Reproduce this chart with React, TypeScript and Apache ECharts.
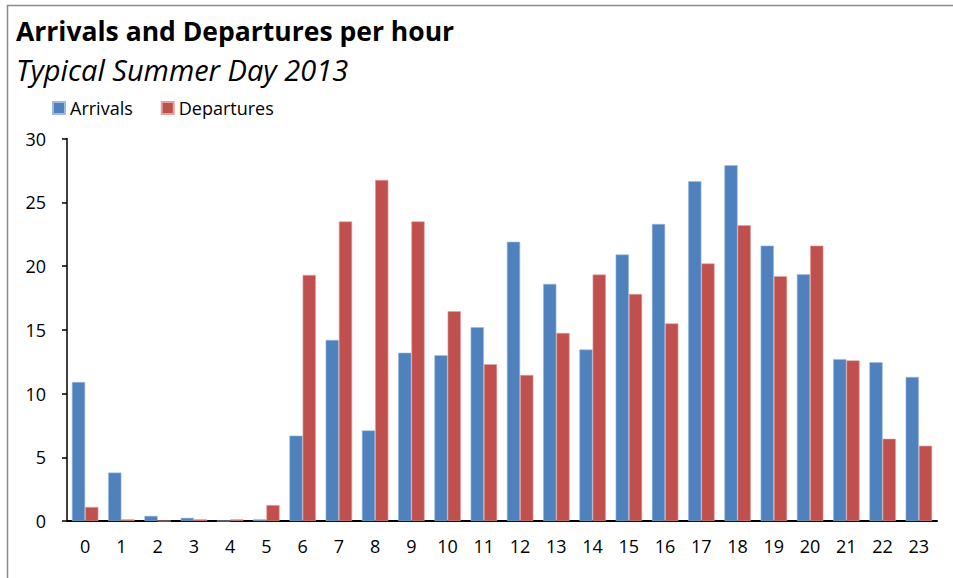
import React, { useEffect, useRef } from "react";
import * as echarts from "echarts";

const hours = ["0","1","2","3","4","5","6","7","8","9","10","11","12","13","14","15","16","17","18","19","20","21","22","23"];
const arrivals = [10.9, 3.8, 0.4, 0.25, 0, 0.13, 6.7, 14.2, 7.1, 13.2, 13.0, 15.2, 21.9, 18.6, 13.45, 20.9, 23.3, 26.65, 27.9, 21.6, 19.35, 12.7, 12.45, 11.3];
const departures = [1.1, 0.13, 0, 0.13, 0.13, 1.25, 19.3, 23.5, 26.75, 23.5, 16.45, 12.3, 11.45, 14.75, 19.33, 17.8, 15.5, 20.2, 23.2, 19.2, 21.6, 12.6, 6.45, 5.9];
const yTicks = { min: 0, max: 30, interval: 5 };

const FONT = "'Open Sans', sans-serif";

export default function App() {
  const ref = useRef<HTMLDivElement>(null);
  useEffect(() => {
    if (!ref.current) return;
    const chart = echarts.init(ref.current, undefined, { renderer: "svg" });
    chart.setOption({
      animation: false,
      backgroundColor: "#ffffff",
      textStyle: { fontFamily: FONT },
      graphic: [
        {
          type: "rect",
          shape: { x: 7.5, y: 5.5, width: 1000, height: 700 },
          style: { fill: "none", stroke: "#8c8c8c", lineWidth: 1.5 },
          silent: true,
          z: -10,
        },
      ],
      title: [
        {
          text: "Arrivals and Departures per hour",
          left: 11,
          top: 12,
          textStyle: { fontFamily: FONT, fontSize: 26.5, fontWeight: "bold", color: "#000" },
        },
        {
          text: "Typical Summer Day 2013",
          left: 11,
          top: 50,
          textStyle: { fontFamily: FONT, fontSize: 29, fontStyle: "italic", fontWeight: "normal", color: "#000" },
        },
      ],
      legend: {
        left: 47,
        top: 94,
        itemWidth: 12,
        itemHeight: 12,
        itemGap: 28,
        icon: "rect",
        textStyle: { fontFamily: FONT, fontSize: 18, color: "#000" },
        data: ["Arrivals", "Departures"],
      },
      grid: { left: 67, right: 16, top: 138.5, bottom: 57, containLabel: false },
      xAxis: {
        type: "category",
        data: hours,
        axisLine: { show: true, lineStyle: { color: "#000", width: 2 } },
        axisTick: { show: false },
        axisLabel: { color: "#000", fontSize: 18, margin: 16, fontFamily: FONT },
      },
      yAxis: {
        type: "value",
        min: yTicks.min,
        max: yTicks.max,
        interval: yTicks.interval,
        axisLine: { show: true, lineStyle: { color: "#000", width: 1.5 } },
        axisTick: { show: true, length: 5, lineStyle: { color: "#000", width: 1.5 } },
        splitLine: { show: false },
        axisLabel: { color: "#000", fontSize: 18, margin: 21, fontFamily: FONT },
      },
      series: [
        {
          name: "Arrivals",
          type: "bar",
          data: arrivals,
          barGap: "0%",
          barCategoryGap: "27%",
          itemStyle: { color: "#4F81BD", borderColor: "#9dbbe0", borderWidth: 0.6 },
        },
        {
          name: "Departures",
          type: "bar",
          data: departures,
          barGap: "0%",
          barCategoryGap: "27%",
          itemStyle: { color: "#C0504D", borderColor: "#e0a3a1", borderWidth: 0.6 },
        },
      ],
    });
    return () => chart.dispose();
  }, []);
  return (
    <div
      ref={ref}
      style={{ position: "fixed", left: 0, top: 0, width: 953, height: 578 }}
    />
  );
}
